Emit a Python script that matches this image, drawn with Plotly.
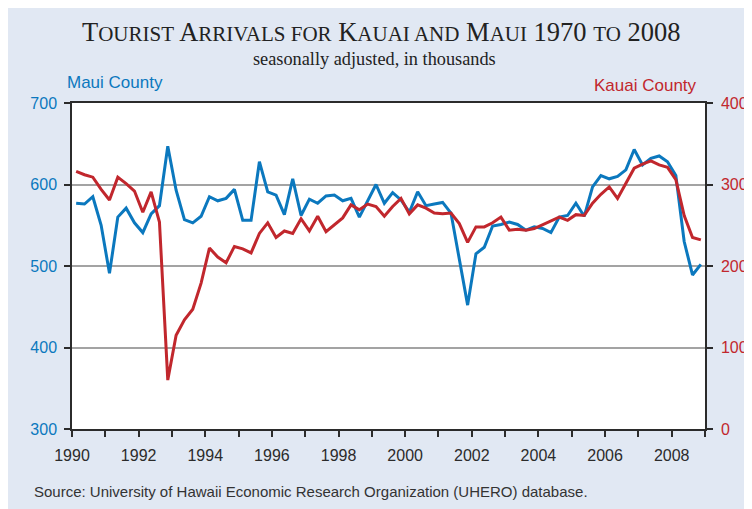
import plotly.graph_objects as go

years_start = 1990
maui = [577, 576, 585, 550, 491, 560, 571, 553, 541, 564,
        574, 647, 593, 557, 553, 561, 585, 580, 583, 594,
        556, 556, 628, 591, 587, 563, 607, 562, 582, 577,
        586, 587, 580, 583, 560, 581, 600, 577, 590, 581,
        566, 591, 574, 576, 578, 565, 507, 452, 515, 523,
        549, 551, 554, 551, 544, 548, 546, 541, 560, 562,
        577, 561, 597, 611, 607, 610, 618, 643, 624, 632,
        635, 628, 611, 530, 489, 502]
kauai = [316, 312, 309, 294, 281, 309, 301, 292, 266, 291,
         254, 60, 115, 134, 147, 179, 222, 211, 204, 224,
         221, 216, 240, 253, 235, 243, 240, 258, 243, 261,
         242, 251, 259, 275, 269, 276, 273, 261, 273, 283,
         264, 275, 271, 265, 264, 265, 252, 229, 248, 248,
         253, 260, 244, 245, 244, 246, 251, 256, 260, 256,
         263, 262, 277, 288, 297, 283, 301, 320, 325, 329,
         324, 321, 306, 262, 235, 232]
# quarterly observations, plotted at mid-quarter
quarters = [years_start + i / 4 + 0.125 for i in range(len(maui))]
x_tickvals = list(range(1990, 2009, 2))
left_ticks = [300, 400, 500, 600, 700]
right_ticks = [0, 100, 200, 300, 400]

BLUE = "#0b78be"
RED = "#c1272d"
DARK = "#2b2b2b"
PANEL = "#e1e8f3"

fig = go.Figure()
fig.add_trace(go.Scatter(x=quarters, y=maui, mode="lines", name="Maui County",
                         line=dict(color=BLUE, width=3), yaxis="y"))
fig.add_trace(go.Scatter(x=quarters, y=kauai, mode="lines", name="Kauai County",
                         line=dict(color=RED, width=3), yaxis="y2"))

# the page body adds an 8px offset to the figure
OFF = 8
FW, FH = 752, 509
L, R, T, B = 72.3 - OFF, 705.0 - OFF, 102.7 - OFF, 429.3 - OFF
W, H = R - L, B - T
def px(x):
    return (x - OFF - L) / W
def py(y):
    return (B - (y - OFF)) / H

small = "<span style='font-size:21px'>{}</span>"
title = ("T" + small.format("OURIST") + " A" + small.format("RRIVALS FOR") +
         " K" + small.format("AUAI AND") + " M" + small.format("AUI") +
         " 1970 " + small.format("TO") + " 2008")

fig.update_layout(
    width=FW, height=FH,
    margin=dict(l=L, r=FW - R, t=T, b=FH - B, pad=0),
    paper_bgcolor=PANEL,
    plot_bgcolor="white",
    showlegend=False,
    font=dict(family="Liberation Sans, Arial, sans-serif", color=DARK),
    xaxis=dict(range=[1990, 2009], tickvals=x_tickvals, ticks="outside",
               ticklen=6, tickwidth=1.5, tickcolor=DARK,
               showline=True, linecolor=DARK, linewidth=1.5, mirror=True,
               showgrid=False, zeroline=False, automargin=False,
               tickfont=dict(size=16, color=DARK),
               minor=dict(dtick=1, tick0=1990, ticks="outside", ticklen=6,
                          tickwidth=1.5, tickcolor=DARK, showgrid=False),
               ticklabelstandoff=5),
    yaxis=dict(range=[300, 700], tickvals=left_ticks, ticks="outside",
               ticklen=6, tickwidth=1.5, tickcolor=DARK,
               showline=True, linecolor=DARK, linewidth=1.5,
               showgrid=True, gridcolor="#a3a3a3", gridwidth=1.5,
               zeroline=False, automargin=False,
               tickfont=dict(size=16, color=BLUE), ticklabelstandoff=4),
    yaxis2=dict(range=[0, 400], tickvals=right_ticks, ticks="outside",
                ticklen=6, tickwidth=1.5, tickcolor=DARK,
                overlaying="y", side="right",
                showline=True, linecolor=DARK, linewidth=1.5,
                showgrid=False, zeroline=False, automargin=False,
                tickfont=dict(size=16, color=RED), ticklabelstandoff=5),
    annotations=[
        dict(text=title, xref="paper", yref="paper", x=px(381), y=py(32),
             xanchor="center", yanchor="middle", showarrow=False,
             font=dict(family="Liberation Serif, Times New Roman, serif",
                       size=26.5, color="#222222")),
        dict(text="seasonally adjusted, in thousands", xref="paper", yref="paper",
             x=px(375), y=py(58.5), xanchor="center", yanchor="middle",
             showarrow=False,
             font=dict(family="Liberation Serif, Times New Roman, serif",
                       size=18.3, color="#222222")),
        dict(text="Maui County", xref="paper", yref="paper", x=px(65), y=py(82),
             xanchor="left", yanchor="middle", showarrow=False,
             font=dict(size=17, color=BLUE)),
        dict(text="Kauai County", xref="paper", yref="paper", x=px(699), y=py(85),
             xanchor="right", yanchor="middle", showarrow=False,
             font=dict(size=17, color=RED)),
        dict(text="Source: University of Hawaii Economic Research Organization (UHERO) database.",
             xref="paper", yref="paper", x=px(32), y=py(492),
             xanchor="left", yanchor="middle", showarrow=False,
             font=dict(size=15, color="#333333")),
    ],
)

fig.write_html(
    "out.html",
    post_script="document.documentElement.style.overflow='hidden';"
                "document.body.style.overflow='hidden';",
)
